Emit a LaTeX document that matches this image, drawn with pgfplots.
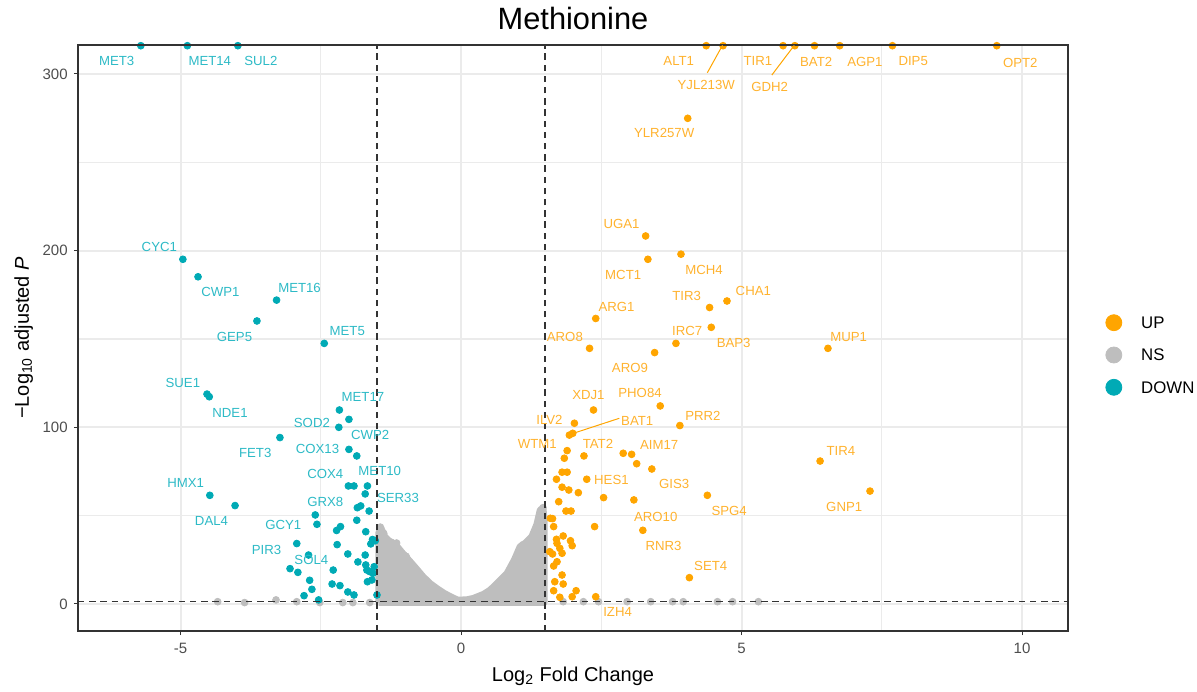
\documentclass[border=0pt]{standalone}
\usepackage{fontspec}
\setmainfont{Liberation Sans}
\usepackage{pgfplots}
\pgfplotsset{compat=1.18}

\definecolor{upcol}{HTML}{FFA500}
\definecolor{nscol}{HTML}{BEBEBE}
\definecolor{downcol}{HTML}{00AAB5}
\definecolor{uplab}{HTML}{FFB22E}
\definecolor{downlab}{HTML}{2DBAC6}
\definecolor{gridcol}{HTML}{EBEBEB}
\definecolor{ticktext}{HTML}{4D4D4D}
\definecolor{framecol}{HTML}{333333}

\tikzset{
  dl/.style={font=\fontsize{6.6}{7}\selectfont, text=downlab, inner sep=0pt, anchor=center},
  ul/.style={font=\fontsize{6.6}{7}\selectfont, text=uplab, inner sep=0pt, anchor=center},
  cutoff/.style={color=framecol, line width=0.8pt, dash pattern=on 3.2pt off 2.4pt},
}

\begin{document}
\begin{tikzpicture}
\useasboundingbox (-39pt,-30pt) rectangle (559.5pt,315.5pt);
\begin{axis}[
  at={(0,0)}, anchor=south west,
  scale only axis, width=495pt, height=293pt,
  xmin=-6.83, xmax=10.82, ymin=-15.3, ymax=316.4,
  xtick={-5,0,5,10}, ytick={0,100,200,300},
  minor xtick={-2.5,2.5,7.5}, minor ytick={50,150,250},
  xtick pos=bottom, ytick pos=left,
  grid=both,
  major grid style={color=gridcol, line width=1pt},
  minor grid style={color=gridcol, line width=0.6pt},
  tick align=outside, major tick length=2pt, minor tick length=0pt,
  tick style={color=framecol, line width=0.5pt},
  axis line style={color=framecol, line width=0.7pt},
  ticklabel style={font=\fontsize{7.5}{9}\selectfont, color=ticktext, inner sep=0pt},
  xticklabel style={anchor=base, yshift=-9.4pt},
  yticklabel style={anchor=east, xshift=-3pt},
  /pgf/number format/assume math mode=true,
  xlabel={Log\textsubscript{2} Fold Change},
  ylabel={−Log\textsubscript{10} adjusted \textit{P}},
  xlabel style={font=\fontsize{10}{12}\selectfont, at={(axis description cs:0.5,-0.087)}, anchor=base},
  ylabel style={font=\fontsize{10}{12}\selectfont, at={(axis description cs:-0.0495,0.5)}, anchor=base},
  every axis title shift=0pt,
  title={Methionine},
  title style={font=\fontsize{15.4}{18}\selectfont, at={(axis description cs:0.5,1.0268)}, anchor=base},
  clip mode=individual,
  legend style={at={(axis description cs:1.0374,0.471)}, anchor=west, draw=none, fill=none,
    font=\fontsize{8.4}{10}\selectfont, inner sep=0pt, row sep=7.75pt, column sep=9.5pt,
    nodes={inner sep=0pt, text height=6pt, text depth=0pt, anchor=west}},
]

% legend entries in the order UP, NS, DOWN
\addlegendimage{legend image code/.code={\fill[upcol] (4pt,0pt) circle (4pt);}}
\addlegendentry{UP}
\addlegendimage{legend image code/.code={\fill[nscol] (4pt,0pt) circle (4pt);}}
\addlegendentry{NS}
\addlegendimage{legend image code/.code={\fill[downcol] (4pt,0pt) circle (4pt);}}
\addlegendentry{DOWN}

% dense non-significant cloud between the fold-change cut-offs
\addplot[fill=nscol, draw=nscol, line width=3.4pt, line join=round, forget plot] coordinates {
  (-1.47,0.8) (-1.47,40) (-1.43,43) (-1.36,38) (-1.28,35.5) (-1.18,34)
  (-1.05,29) (-0.91,24) (-0.80,20) (-0.68,15.5) (-0.55,11.5) (-0.42,8.5)
  (-0.30,6) (-0.18,4) (-0.06,2.2) (0.10,2.4) (0.22,3.2) (0.40,5.5)
  (0.52,7.9) (0.65,12) (0.82,17.4) (0.95,25) (1.05,32.4) (1.14,34.3)
  (1.26,38.1) (1.35,45) (1.41,53.2) (1.46,54.2) (1.48,48) (1.48,0.8) (-1.47,0.8)
};

% remaining non-significant genes
\addplot[only marks, mark=*, mark size=1.7pt, color=nscol, forget plot] coordinates {
  (-1.44,43.5) (-1.38,40) (-1.25,35) (-1.15,34.5) (-0.98,27) (-0.85,21)
  (0.90,21) (1.10,33.5) (1.22,35) (1.30,40) (1.43,50) (1.46,54.5)
  (-4.34,1.3) (-3.86,0.8) (-3.30,2.3) (-2.93,1.3) (-2.52,0.8) (-2.11,0.8)
  (-1.93,0.8) (-1.63,0.8)
  (1.82,1.3) (2.18,1.3) (2.45,1.3) (2.96,1.3) (3.38,1.3) (3.77,1.3)
  (3.96,1.3) (4.57,1.3) (4.84,1.3) (5.30,1.3)
};

% down-regulated genes
\addplot[only marks, mark=*, mark size=1.7pt, color=downcol, forget plot] coordinates {
  (-5.71,316) (-4.88,316) (-3.98,316)
  (-4.96,195.1) (-4.69,185.2) (-3.29,172.0) (-3.64,160.2) (-2.44,147.5)
  (-4.53,118.8) (-4.49,117.3) (-2.17,109.8) (-2.00,104.5) (-2.18,100.0)
  (-2.00,87.5) (-1.86,83.8) (-3.23,94.2) (-2.01,66.8) (-1.91,66.8)
  (-1.67,66.8) (-4.48,61.5) (-4.03,55.7) (-1.64,52.6) (-1.71,62.3)
  (-1.79,55.5) (-1.85,54.5) (-2.60,50.4) (-2.57,45.1) (-1.86,47.4)
  (-2.15,43.8) (-2.22,41.6) (-1.70,40.9) (-1.53,35.8) (-1.61,34.0)
  (-1.58,36.5) (-2.21,33.6) (-2.93,34.2) (-2.02,28.3) (-1.71,27.7)
  (-2.72,27.7) (-1.84,23.8) (-1.70,22.1) (-3.05,20.0) (-2.91,17.9)
  (-2.28,19.2) (-1.63,18.3) (-1.57,17.4) (-1.68,19.2) (-1.55,21.1)
  (-1.67,12.6) (-1.59,13.6) (-2.70,13.4) (-2.30,11.3) (-2.16,10.4)
  (-2.66,8.3) (-2.02,6.8) (-1.91,5.1) (-2.80,4.7) (-2.54,2.3) (-1.50,5.1)
};

% up-regulated genes
\addplot[only marks, mark=*, mark size=1.7pt, color=upcol, forget plot] coordinates {
  (4.37,316) (4.67,316) (5.74,316) (5.95,316) (6.30,316) (6.75,316)
  (7.69,316) (9.55,316)
  (4.04,274.9) (3.29,208.3) (3.33,195.1) (3.92,198.0) (4.43,167.8)
  (4.74,171.5) (2.40,161.6) (4.46,156.6) (3.83,147.5) (2.29,144.7)
  (3.45,142.3) (6.54,144.7) (2.36,109.8) (3.55,112.1) (2.02,102.3)
  (1.93,95.6) (1.99,96.6) (3.90,101.0) (1.89,86.8) (1.84,82.5)
  (2.19,83.8) (2.89,85.3) (3.04,84.7) (3.13,79.4) (3.40,76.4)
  (2.24,70.6) (3.08,58.9) (4.39,61.5) (2.54,60.2) (3.24,41.7)
  (6.40,80.9) (7.29,63.9) (4.07,14.9) (2.40,4.1)
  (1.80,74.6) (1.89,74.6) (1.70,70.6) (1.80,66.1) (1.92,64.5) (2.09,63.0)
  (1.74,57.9) (1.87,52.6) (1.96,52.6) (1.63,48.3) (1.65,43.8) (2.38,43.8)
  (1.70,36.6) (1.82,38.5) (1.95,35.8) (1.98,33.0) (1.71,34.3) (1.76,31.5)
  (1.58,29.6) (1.63,28.3) (1.80,28.7) (1.71,23.9) (1.65,21.5) (1.80,16.4)
  (1.67,12.6) (1.82,11.3) (1.65,7.5) (2.05,7.5) (1.76,3.8) (1.98,4.1)
  (1.59,48.5)
};

% significance cut-offs
\addplot[cutoff, forget plot] coordinates {(-1.5,-15.3) (-1.5,316.4)};
\addplot[cutoff, forget plot] coordinates {(1.5,-15.3) (1.5,316.4)};
\addplot[cutoff, forget plot] coordinates {(-6.83,1.3) (10.82,1.3)};

% panel border over the data
\draw[framecol, line width=0.7pt] (rel axis cs:0,0) rectangle (rel axis cs:1,1);

% gene labels, down-regulated
\node[dl] at (axis cs:-6.14,307.3) {MET3};
\node[dl] at (axis cs:-4.48,307.3) {MET14};
\node[dl] at (axis cs:-3.57,307.3) {SUL2};
\node[dl] at (axis cs:-5.38,201.9) {CYC1};
\node[dl] at (axis cs:-4.29,176.7) {CWP1};
\node[dl] at (axis cs:-2.88,178.7) {MET16};
\node[dl] at (axis cs:-4.04,151.3) {GEP5};
\node[dl] at (axis cs:-2.03,154.5) {MET5};
\node[dl] at (axis cs:-4.96,125.3) {SUE1};
\node[dl] at (axis cs:-4.12,108.3) {NDE1};
\node[dl] at (axis cs:-1.75,117.0) {MET17};
\node[dl] at (axis cs:-2.66,102.6) {SOD2};
\node[dl] at (axis cs:-1.62,95.6) {CWP2};
\node[dl] at (axis cs:-3.67,85.3) {FET3};
\node[dl] at (axis cs:-2.56,87.7) {COX13};
\node[dl] at (axis cs:-2.42,73.4) {COX4};
\node[dl] at (axis cs:-1.45,75.4) {MET10};
\node[dl] at (axis cs:-4.91,68.3) {HMX1};
\node[dl] at (axis cs:-4.45,47.0) {DAL4};
\node[dl] at (axis cs:-1.125,59.8) {SER33};
\node[dl] at (axis cs:-2.42,57.9) {GRX8};
\node[dl] at (axis cs:-3.17,44.7) {GCY1};
\node[dl] at (axis cs:-3.47,30.6) {PIR3};
\node[dl] at (axis cs:-2.67,24.9) {SOL4};

% gene labels, up-regulated
\draw[upcol, line width=0.5pt] (axis cs:4.66,316.2) -- (axis cs:4.39,300.7);
\draw[upcol, line width=0.5pt] (axis cs:5.94,316.2) -- (axis cs:5.54,299.4);
\draw[upcol, line width=0.5pt] (axis cs:2.00,96.6) -- (axis cs:2.82,105.1);
\node[ul] at (axis cs:3.88,307.3) {ALT1};
\node[ul] at (axis cs:4.37,293.7) {YJL213W};
\node[ul] at (axis cs:5.29,307.3) {TIR1};
\node[ul] at (axis cs:5.50,292.8) {GDH2};
\node[ul] at (axis cs:6.33,307.0) {BAT2};
\node[ul] at (axis cs:7.20,307.0) {AGP1};
\node[ul] at (axis cs:8.06,307.3) {DIP5};
\node[ul] at (axis cs:9.97,306.5) {OPT2};
\node[ul] at (axis cs:3.62,266.4) {YLR257W};
\node[ul] at (axis cs:2.86,214.9) {UGA1};
\node[ul] at (axis cs:2.89,186.2) {MCT1};
\node[ul] at (axis cs:4.33,189.0) {MCH4};
\node[ul] at (axis cs:4.02,174.3) {TIR3};
\node[ul] at (axis cs:5.21,177.3) {CHA1};
\node[ul] at (axis cs:2.77,168.3) {ARG1};
\node[ul] at (axis cs:4.03,154.5) {IRC7};
\node[ul] at (axis cs:4.86,147.5) {BAP3};
\node[ul] at (axis cs:1.85,151.3) {ARO8};
\node[ul] at (axis cs:3.01,133.7) {ARO9};
\node[ul] at (axis cs:6.91,151.3) {MUP1};
\node[ul] at (axis cs:2.27,118.3) {XDJ1};
\node[ul] at (axis cs:3.19,119.2) {PHO84};
\node[ul] at (axis cs:1.575,104.1) {ILV2};
\node[ul] at (axis cs:3.14,103.7) {BAT1};
\node[ul] at (axis cs:4.31,106.4) {PRR2};
\node[ul] at (axis cs:1.36,90.5) {WTM1};
\node[ul] at (axis cs:2.44,90.4) {TAT2};
\node[ul] at (axis cs:3.53,90.0) {AIM17};
\node[ul] at (axis cs:2.68,70.2) {HES1};
\node[ul] at (axis cs:3.80,67.7) {GIS3};
\node[ul] at (axis cs:4.78,52.8) {SPG4};
\node[ul] at (axis cs:3.47,49.4) {ARO10};
\node[ul] at (axis cs:3.61,32.8) {RNR3};
\node[ul] at (axis cs:4.45,21.7) {SET4};
\node[ul] at (axis cs:6.77,86.8) {TIR4};
\node[ul] at (axis cs:6.83,55.1) {GNP1};
\node[ul] at (axis cs:2.79,-4.7) {IZH4};
\end{axis}
\end{tikzpicture}
\end{document}
